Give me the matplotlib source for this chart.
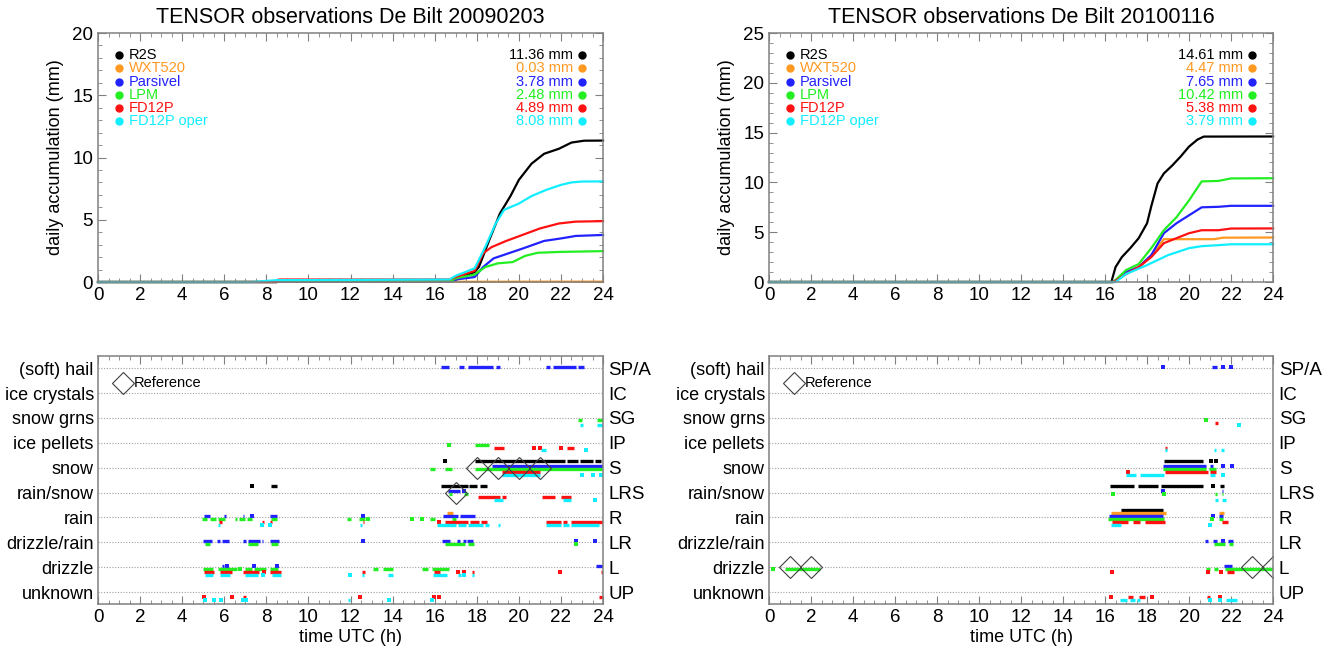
import matplotlib
matplotlib.use('Agg')
import matplotlib.pyplot as plt
import numpy as np

plt.rcParams['font.family'] = ['Liberation Sans', 'DejaVu Sans']

# sensors, colours and daily totals
sensors = ['R2S', 'WXT520', 'Parsivel', 'LPM', 'FD12P', 'FD12P oper']
colors = ['black', '#ff9922', '#2222ff', '#22ee22', '#ff1111', '#11eeff']
totals_0203 = ['11.36', '0.03', '3.78', '2.48', '4.89', '8.08']
totals_0116 = ['14.61', '4.47', '7.65', '10.42', '5.38', '3.79']

# precipitation classes (bottom to top)
classes = ['unknown', 'drizzle', 'drizzle/rain', 'rain', 'rain/snow', 'snow',
           'ice pellets', 'snow grns', 'ice crystals', '(soft) hail']
codes = ['UP', 'L', 'LR', 'R', 'LRS', 'S', 'IP', 'SG', 'IC', 'SP/A']

# ---- accumulation 20090203 (time h, mm)
acc_0203 = [
    ([0, 8.5, 8.6, 16.8, 17.3, 17.9, 18.1, 18.6, 19.1, 19.6, 20.0, 20.6, 21.2, 21.9, 22.5, 23.1, 24],
     [0, 0, 0.05, 0.05, 0.4, 0.8, 1.2, 3.4, 5.5, 6.9, 8.2, 9.5, 10.3, 10.7, 11.2, 11.35, 11.36]),
    ([0, 24], [0, 0.03]),
    ([0, 8.5, 8.6, 16.8, 17.0, 17.9, 18.3, 18.8, 19.5, 20.2, 20.7, 21.2, 22.0, 22.7, 24],
     [0, 0, 0.05, 0.05, 0.2, 0.4, 1.2, 1.9, 2.3, 2.7, 3.0, 3.3, 3.5, 3.7, 3.78]),
    ([0, 8.5, 8.6, 16.8, 17.0, 17.9, 18.4, 19.0, 19.7, 20.3, 20.9, 22.0, 24],
     [0, 0, 0.1, 0.1, 0.3, 0.6, 1.2, 1.5, 1.6, 2.1, 2.35, 2.42, 2.48]),
    ([0, 8.5, 8.6, 16.7, 17.0, 17.9, 18.3, 18.7, 19.4, 20.2, 21.0, 21.9, 22.7, 24],
     [0, 0, 0.2, 0.2, 0.4, 0.9, 2.3, 2.8, 3.3, 3.8, 4.3, 4.7, 4.85, 4.89]),
    ([0, 7.3, 8.5, 16.7, 17.0, 17.9, 18.4, 18.9, 19.3, 20.0, 20.6, 21.3, 22.0, 22.5, 23.0, 24],
     [0, 0, 0.15, 0.2, 0.5, 1.1, 2.8, 4.7, 5.8, 6.3, 6.9, 7.4, 7.8, 8.0, 8.07, 8.08]),
]

# ---- accumulation 20100116
acc_0116 = [
    ([0, 16.3, 16.5, 16.8, 17.2, 17.6, 18.0, 18.2, 18.5, 18.8, 19.2, 19.6, 20.0, 20.4, 20.7, 24],
     [0, 0, 1.5, 2.5, 3.4, 4.4, 5.9, 7.6, 9.9, 10.9, 11.7, 12.6, 13.6, 14.3, 14.6, 14.61]),
    ([0, 16.4, 17.0, 17.6, 18.2, 18.8, 21.2, 21.6, 24],
     [0, 0, 0.8, 1.5, 2.6, 4.3, 4.3, 4.45, 4.47]),
    ([0, 16.4, 17.0, 17.6, 18.2, 18.8, 19.4, 20.0, 20.6, 21.4, 22.0, 24],
     [0, 0, 1.0, 1.5, 2.7, 4.9, 5.9, 6.7, 7.5, 7.55, 7.65, 7.65]),
    ([0, 16.4, 17.0, 17.6, 18.2, 18.8, 19.4, 20.0, 20.6, 21.4, 22.0, 24],
     [0, 0, 1.2, 1.8, 3.4, 5.2, 6.5, 8.2, 10.1, 10.15, 10.4, 10.42]),
    ([0, 16.4, 17.0, 17.6, 18.2, 18.8, 19.4, 20.0, 20.6, 21.4, 22.0, 24],
     [0, 0, 0.8, 1.5, 2.5, 3.9, 4.4, 4.9, 5.2, 5.2, 5.37, 5.38]),
    ([0, 16.5, 17.0, 18.0, 19.0, 20.0, 20.6, 21.4, 22.0, 24],
     [0, 0, 0.8, 1.7, 2.7, 3.4, 3.6, 3.7, 3.79, 3.79]),
]

# ---- classification 20090203: (class code, start h, end h)
r2s_0203 = [('LRS', 7.33, 7.33), ('LRS', 8.2, 8.5), ('S', 16.5, 16.5), ('LRS', 16.3, 17.6),
            ('LRS', 17.65, 18.0), ('LRS', 18.15, 18.5), ('S', 17.9, 22.2), ('S', 22.3, 22.8),
            ('S', 22.9, 23.5), ('S', 23.6, 23.9)]
wxt_0203 = [('R', 16.6, 16.85)]
par_0203 = [('R', 5.04, 5.32), ('R', 6.0, 6.1), ('R', 6.88, 6.95), ('R', 7.3, 7.3), ('R', 8.18, 8.52),
            ('R', 12.6, 12.6), ('LR', 4.98, 5.4), ('LR', 5.67, 5.8), ('LR', 5.88, 6.24),
            ('LR', 6.88, 7.02), ('LR', 7.15, 7.7), ('LR', 7.78, 7.86), ('LR', 8.15, 8.62),
            ('LR', 12.6, 12.6), ('L', 5.88, 6.0), ('L', 6.12, 6.12), ('L', 7.43, 7.43), ('L', 8.52, 8.52),
            ('SP/A', 16.3, 16.7), ('SP/A', 17.15, 17.4), ('SP/A', 17.6, 18.75), ('SP/A', 18.9, 19.1),
            ('SP/A', 21.3, 21.5), ('SP/A', 21.6, 22.7), ('SP/A', 22.8, 23.1), ('S', 18.7, 24.0),
            ('LRS', 16.65, 17.2), ('LRS', 17.4, 17.4), ('R', 16.4, 17.1), ('R', 17.2, 17.9),
            ('LR', 16.35, 16.75), ('LR', 17.05, 17.2), ('LR', 17.35, 17.5), ('LR', 17.55, 17.8),
            ('LR', 22.7, 22.7), ('LR', 23.6, 23.6), ('L', 23.65, 24.0)]
lpm_0203 = [('R', 4.93, 5.2), ('R', 5.3, 5.6), ('R', 5.7, 6.04), ('R', 6.5, 6.6), ('R', 6.7, 7.0),
            ('R', 7.1, 7.3), ('R', 8.2, 8.5), ('R', 11.85, 12.0), ('R', 12.38, 12.7), ('R', 12.85, 12.85),
            ('R', 14.9, 14.9), ('R', 15.4, 15.4), ('R', 15.8, 16.0), ('R', 16.8, 17.0),
            ('LR', 5.08, 5.32), ('LR', 7.15, 7.62), ('LR', 8.2, 8.57), ('LR', 16.5, 17.45),
            ('LR', 17.6, 17.85), ('LR', 22.7, 22.7), ('L', 4.97, 5.48), ('L', 5.72, 6.6),
            ('L', 6.75, 6.75), ('L', 6.99, 7.3), ('L', 7.42, 7.99), ('L', 8.17, 8.57), ('L', 13.06, 13.3),
            ('L', 13.56, 14.04), ('L', 15.38, 15.7), ('L', 15.86, 16.7), ('SG', 22.8, 23.0),
            ('SG', 23.7, 24.0), ('IP', 16.7, 16.7), ('IP', 17.9, 18.6), ('S', 15.8, 16.0),
            ('S', 16.5, 16.8), ('S', 17.9, 24.0), ('LRS', 16.7, 16.8), ('LRS', 17.4, 17.6)]
fd_0203 = [('R', 5.77, 5.88), ('R', 7.78, 7.9), ('R', 8.15, 8.25), ('R', 12.57, 12.65), ('R', 16.2, 16.2),
           ('R', 16.5, 17.6), ('R', 17.7, 18.1), ('R', 18.2, 18.5), ('R', 21.3, 22.0), ('R', 22.1, 22.3),
           ('R', 22.5, 24.0), ('L', 5.04, 5.51), ('L', 5.8, 6.35), ('L', 6.9, 7.67), ('L', 7.9, 7.9),
           ('L', 8.17, 8.68), ('L', 12.54, 12.7), ('L', 15.97, 16.26), ('L', 17.1, 17.1), ('L', 17.4, 17.4),
           ('L', 17.75, 17.85), ('L', 21.95, 21.95), ('L', 23.9, 24.0), ('UP', 5.05, 5.05),
           ('UP', 6.38, 6.38), ('UP', 6.9, 7.05), ('UP', 12.45, 12.45), ('UP', 15.95, 16.0),
           ('UP', 16.2, 16.2), ('UP', 23.8, 24.0), ('IP', 18.8, 19.3), ('IP', 20.7, 20.7), ('IP', 21.0, 21.0),
           ('IP', 22.0, 22.0), ('IP', 22.3, 22.6), ('S', 19.2, 21.0), ('LRS', 18.05, 19.1),
           ('LRS', 19.2, 19.4), ('LRS', 21.1, 21.7), ('LRS', 22.0, 22.5)]
oper_0203 = [('R', 5.7, 5.8), ('R', 7.8, 7.85), ('R', 8.15, 8.15), ('R', 12.45, 12.55), ('R', 16.1, 17.0),
             ('R', 17.1, 17.5), ('R', 17.6, 18.3), ('R', 18.4, 18.6), ('R', 19.0, 19.1), ('R', 21.3, 22.0),
             ('R', 22.1, 22.4), ('R', 22.5, 23.8), ('L', 5.09, 5.48), ('L', 5.8, 6.28), ('L', 6.99, 7.62),
             ('L', 7.86, 7.86), ('L', 8.25, 8.68), ('L', 11.98, 11.98), ('L', 12.55, 12.65),
             ('L', 13.8, 14.04), ('L', 15.92, 16.6), ('L', 17.1, 17.25), ('L', 17.4, 17.4), ('L', 17.75, 17.85),
             ('UP', 5.1, 5.1), ('UP', 5.5, 5.5), ('UP', 5.83, 5.83), ('UP', 6.88, 6.88), ('UP', 7.02, 7.02),
             ('UP', 11.9, 11.97), ('UP', 13.85, 13.85), ('UP', 15.85, 15.9), ('SG', 22.9, 23.05),
             ('SG', 23.7, 24.0), ('IP', 21.05, 21.3), ('IP', 23.2, 23.2), ('S', 19.2, 21.0), ('S', 23.0, 23.0),
             ('S', 23.5, 23.5), ('S', 23.9, 23.9), ('LRS', 18.8, 19.25), ('LRS', 22.1, 22.5),
             ('LRS', 23.6, 23.6)]
ref_0203 = [('LRS', 17), ('S', 18), ('S', 19), ('S', 20), ('S', 21)]

# ---- classification 20100116
r2s_0116 = [('S', 18.81, 20.68), ('S', 21.03, 21.03), ('S', 21.3, 21.3), ('LRS', 16.24, 17.4),
            ('LRS', 17.55, 18.5), ('LRS', 18.65, 20.68), ('LRS', 21.13, 21.13), ('LRS', 21.48, 21.67),
            ('R', 16.74, 18.74)]
wxt_0116 = [('R', 16.27, 18.9), ('R', 21.44, 21.67)]
par_0116 = [('SP/A', 18.77, 18.77), ('SP/A', 21.08, 21.35), ('SP/A', 21.63, 21.63), ('SP/A', 22.0, 22.0),
            ('S', 18.77, 20.8), ('S', 21.0, 21.15), ('S', 21.63, 21.63), ('S', 22.06, 22.06),
            ('LRS', 18.74, 18.74), ('LRS', 21.56, 21.63), ('R', 16.21, 18.74), ('R', 21.16, 21.16),
            ('R', 21.44, 21.6), ('LR', 20.76, 20.92), ('LR', 21.16, 21.35), ('LR', 21.63, 21.63),
            ('LR', 21.87, 22.08), ('L', 21.67, 22.03)]
lpm_0116 = [('SG', 20.8, 20.8), ('S', 18.77, 20.8), ('S', 20.95, 21.28), ('LRS', 16.4, 16.4),
            ('LRS', 18.81, 18.81), ('LRS', 21.22, 21.35), ('LRS', 21.55, 21.63), ('R', 16.16, 18.81),
            ('R', 21.08, 21.08), ('R', 21.44, 21.63), ('LR', 21.2, 21.7), ('LR', 21.9, 22.08),
            ('L', 0.2, 0.2), ('L', 0.76, 2.43), ('L', 20.81, 21.0), ('L', 21.19, 21.4), ('L', 21.71, 24.0)]
fd_0116 = [('SG', 21.24, 21.4), ('IP', 18.86, 18.94), ('S', 17.11, 17.11), ('S', 18.86, 20.89),
           ('S', 21.0, 21.28), ('R', 16.32, 17.11), ('R', 17.35, 17.67), ('R', 17.9, 18.86),
           ('R', 21.56, 21.87), ('L', 16.32, 16.32), ('L', 20.92, 20.92), ('L', 21.52, 21.52),
           ('L', 21.79, 22.14), ('UP', 16.27, 16.27), ('UP', 17.11, 17.35), ('UP', 17.6, 17.9),
           ('UP', 18.25, 18.25), ('UP', 20.86, 21.0), ('UP', 21.48, 21.48)]
oper_0116 = [('SG', 22.4, 22.4), ('IP', 18.86, 18.94), ('IP', 21.2, 21.3), ('IP', 21.52, 21.68),
             ('S', 17.0, 17.45), ('S', 17.65, 18.8), ('S', 21.0, 21.24), ('S', 21.6, 21.6),
             ('LRS', 21.24, 21.4), ('LRS', 21.55, 21.76), ('R', 16.27, 16.74), ('R', 21.0, 21.0),
             ('UP', 16.7, 17.03), ('UP', 17.2, 17.43), ('UP', 17.5, 17.67), ('UP', 21.0, 21.0),
             ('UP', 21.48, 21.48), ('UP', 21.76, 22.27)]
ref_0116 = [('L', 1), ('L', 2), ('L', 23), ('L', 24)]

obs_0203 = [r2s_0203, wxt_0203, par_0203, lpm_0203, fd_0203, oper_0203]
obs_0116 = [r2s_0116, wxt_0116, par_0116, lpm_0116, fd_0116, oper_0116]
offsets = [0.28, 0.18, 0.06, -0.07, -0.19, -0.30]

frame_col = '#808080'


def style_axes(ax):
    for s in ax.spines.values():
        s.set_color(frame_col)
        s.set_linewidth(1.1)
    ax.set_xlim(0, 24)
    ax.set_xticks(np.arange(0, 25, 2))
    ax.set_xticks(np.arange(0, 24.01, 0.5), minor=True)
    ax.tick_params(which='both', direction='in', top=True, color=frame_col, labelsize=13.5)
    ax.tick_params(which='major', length=6)
    ax.tick_params(which='minor', length=3)


def draw_accum(ax, acc, totals, ymax, title):
    for (t, v), c in zip(acc, colors):
        ax.plot(t, v, color=c, lw=1.6, clip_on=False)
    style_axes(ax)
    ax.set_ylim(0, ymax)
    ax.set_yticks(np.arange(0, ymax + 1, 5))
    ax.set_yticks(np.arange(0, ymax + 0.1, 1), minor=True)
    ax.tick_params(which='both', right=True)
    ax.set_ylabel('daily accumulation (mm)', fontsize=13, labelpad=6)
    ax.set_title(title, fontsize=15.5, pad=7)
    for i, (name, c, tot) in enumerate(zip(sensors, colors, totals)):
        y = 0.912 - i * 0.0534
        ax.plot(0.042, y, 'o', color=c, ms=5, transform=ax.transAxes)
        ax.text(0.061, y, name, color=c, fontsize=10.5, va='center', transform=ax.transAxes)
        ax.text(0.941, y, tot + ' mm', color=c, fontsize=10.5, va='center', ha='right',
                transform=ax.transAxes)
        ax.plot(0.958, y, 'o', color=c, ms=5, transform=ax.transAxes)


def draw_class(ax, obs, refs):
    for k in range(len(classes)):
        ax.axhline(k, color='#a0a0a0', lw=0.8, ls=(0, (1, 1.5)), zorder=0)
    for sens, c, off in zip(obs, colors, offsets):
        for code, t0, t1 in sens:
            y = codes.index(code) + off
            if t1 - t0 < 0.06:
                ax.plot([t0], [y], 's', color=c, ms=2.3, mew=0)
            else:
                ax.hlines(y, t0, t1, color=c, lw=2.4)
    for code, t in refs:
        ax.plot(t, codes.index(code), 'D', mfc='none', mec='#404040', ms=11, mew=0.8)
    ax.plot(1.2, 8.42, 'D', mfc='none', mec='#404040', ms=11, mew=0.8)
    ax.text(1.72, 8.42, 'Reference', fontsize=10.5, va='center')
    style_axes(ax)
    ax.set_ylim(-0.48, 9.49)
    ax.set_yticks(range(len(classes)))
    ax.set_yticklabels(classes, fontsize=13)
    ax.tick_params(axis='y', length=0, pad=3)
    ax2 = ax.twinx()
    ax2.set_ylim(ax.get_ylim())
    ax2.set_yticks(range(len(codes)))
    ax2.set_yticklabels(codes, fontsize=13.5)
    ax2.tick_params(axis='y', length=0, pad=4)
    for s in ax2.spines.values():
        s.set_visible(False)
    ax.set_xlabel('time UTC (h)', fontsize=13, labelpad=2)


fig = plt.figure(figsize=(13.3, 6.51), dpi=100)
ax1 = fig.add_axes([0.0737, 0.5668, 0.3797, 0.3825])
ax2 = fig.add_axes([0.5782, 0.5668, 0.3790, 0.3825])
ax3 = fig.add_axes([0.0737, 0.0722, 0.3797, 0.3810])
ax4 = fig.add_axes([0.5782, 0.0722, 0.3790, 0.3810])

draw_accum(ax1, acc_0203, totals_0203, 20, 'TENSOR observations De Bilt 20090203')
draw_accum(ax2, acc_0116, totals_0116, 25, 'TENSOR observations De Bilt 20100116')
draw_class(ax3, obs_0203, ref_0203)
draw_class(ax4, obs_0116, ref_0116)

fig.savefig('out.png', dpi=100)
